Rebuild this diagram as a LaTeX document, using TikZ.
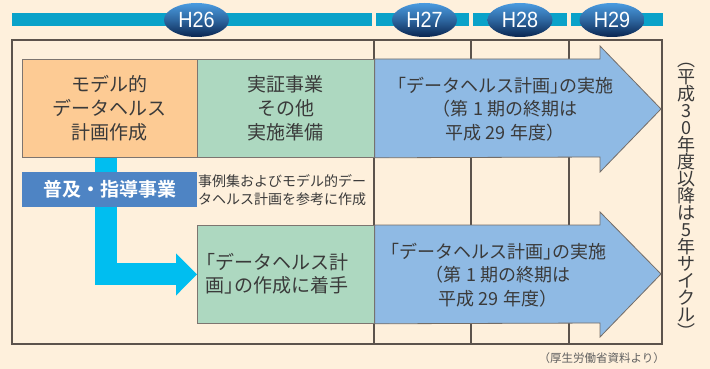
\documentclass[tikz,border=0pt]{standalone}
\usepackage{fontspec}
\setmainfont{Noto Sans CJK JP}[BoldFont={Noto Sans CJK JP Bold}]
\newfontfamily\hfont{Liberation Sans}
\usetikzlibrary{arrows.meta,shapes.geometric,calc}
\definecolor{bgC}{HTML}{FEF0DC}
\definecolor{barC}{HTML}{0AA2C9}
\definecolor{orangeC}{HTML}{FDCB94}
\definecolor{greenC}{HTML}{ADD8C0}
\definecolor{arrowC}{HTML}{8FBAE4}
\definecolor{labelC}{HTML}{4E84C4}
\definecolor{cyanC}{HTML}{00BEF0}
\definecolor{lineC}{HTML}{5C534C}
\definecolor{txtC}{HTML}{3A3A3A}
\definecolor{navyC}{HTML}{0A2550}
\definecolor{lightC}{HTML}{4A9BE0}
\newcommand\lbk{\kern-0.45em「}
\newcommand\rbk{」\kern-0.45em}
\begin{document}
\begin{tikzpicture}[x=1pt,y=-1pt,
  every node/.style={text=txtC},
  boxstyle/.style={draw=lineC!80, line width=0.8pt, anchor=north west, inner sep=0pt,
     minimum height=98pt, align=center, font=\fontsize{19}{24}\selectfont},
  yearball/.style={ellipse, minimum width=65pt, minimum height=34pt, inner sep=0pt,
     top color=lightC, bottom color=navyC, middle color=lightC!55!navyC,
     font=\hfont\fontsize{22}{22}\selectfont, text=white},
  bigarrow/.style={fill=arrowC, draw=lineC!85, line width=0.8pt},
  arrowtext/.style={align=center, font=\fontsize{18}{23.5}\selectfont},
  gridline/.style={draw=lineC, line width=1.2pt}]
\fill[bgC] (0,0) rectangle (710,369);
\useasboundingbox (0,0) rectangle (710,369);
% timeline bar
\fill[barC] (12,13) rectangle (372,26);
\fill[barC] (375.5,13) rectangle (468.5,26);
\fill[barC] (472.5,13) rectangle (567,26);
\fill[barC] (570.5,13) rectangle (663,26);
\node[yearball] (h26) at (196.5,20) {\scalebox{0.9}[1]{H26}};
\node[yearball] (h27) at (424.5,20) {\scalebox{0.9}[1]{H27}};
\node[yearball] (h28) at (520,20) {\scalebox{0.9}[1]{H28}};
\node[yearball] (h29) at (612,20) {\scalebox{0.9}[1]{H29}};
% frame and grid
\draw[gridline] (12,40) rectangle (662,344);
\draw[gridline] (374,40) -- (374,344);
\draw[gridline] (471,40) -- (471,344);
\draw[gridline] (569,40) -- (569,344);
% top row
\node[boxstyle, fill=orangeC, minimum width=175pt] (model) at (22,59) {モデル的\\データヘルス\\計画作成};
\node[boxstyle, fill=greenC, minimum width=177pt] (prep) at (197,59) {実証事業\\その他\\実施準備};
\draw[bigarrow] (prep.north east) -- (600,59) -- (600,46) -- (661,109) -- (600,172) -- (600,157) -- (prep.south east) -- cycle;
\node[arrowtext] (impl1) at (505,109) {\lbk データヘルス計画\rbk の実施\\（第 1 期の終期は\\平成 29 年度）};
% bottom row
\node[boxstyle, fill=greenC, minimum width=177pt] (start) at (197,225) {};
\node[anchor=west, align=left, inner sep=0pt, font=\fontsize{19}{23}\selectfont] (starttxt) at (205,274) {\lbk データヘルス計\\画\rbk の作成に着手};
\draw[bigarrow] (start.north east) -- (600,225) -- (600,212) -- (661,274) -- (600,337) -- (600,323) -- (start.south east) -- cycle;
\node[arrowtext] (impl2) at (498,275) {\lbk データヘルス計画\rbk の実施\\（第 1 期の終期は\\平成 29 年度）};
% cyan connector
\coordinate (cstart) at ($(model.south)+(-3.5,0)$);
\draw[cyanC, line width=22pt, -{Triangle[length=21pt,width=41pt]}] (cstart) |- (start.west);
% label
\node[fill=labelC, minimum width=175pt, minimum height=35pt, inner sep=0pt, anchor=north west,
  text=white, font=\bfseries\fontsize{19}{19}\selectfont] (spread) at (22,172) {普及・指導事業};
\node[anchor=north west, align=left, inner sep=0pt, font=\fontsize{14}{18}\selectfont] (note) at (198,174) {事例集およびモデル的デー\\タヘルス計画を参考に作成};
% side text
\node[align=center, inner sep=0pt, font=\fontsize{18}{17}\selectfont] (cycle) at (686,201) {︵\\平\\成\\3\\0\\年\\度\\以\\降\\は\\5\\年\\サ\\イ\\ク\\ル\\︶};
% source
\node[text=txtC!80, font=\fontsize{11.5}{12}\selectfont, anchor=east, inner sep=0pt] (src) at (665,358) {（厚生労働省資料より）};
\end{tikzpicture}
\end{document}
